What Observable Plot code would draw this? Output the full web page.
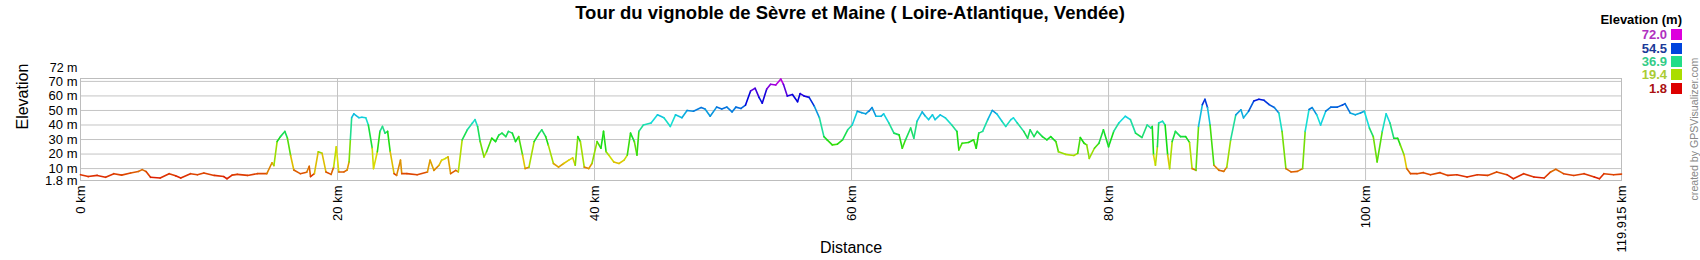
<!DOCTYPE html>
<html>
<head>
<meta charset="utf-8">
<script src="https://cdn.jsdelivr.net/npm/d3@7"></script>
<script src="https://cdn.jsdelivr.net/npm/@observablehq/plot@0.6"></script>
<style>
  html, body { margin: 0; padding: 0; background: #fff; }
  #wrap { position: relative; width: 1700px; height: 260px; font-family: "Liberation Sans", Arial, sans-serif; overflow: hidden; }
  #title { position: absolute; left: 0; width: 1700px; top: 2px; text-align: center; font-weight: bold; font-size: 18.5px; color: #000; }
  #legend { position: absolute; left: 1590px; top: 12px; width: 92px; }
  #legend .hdr { font-weight: bold; font-size: 13px; text-align: right; color: #000; margin-bottom: 1px; }
  #legend .row { display: flex; justify-content: flex-end; align-items: center; height: 13.4px; font-size: 13px; font-weight: bold; }
  #legend .sw { width: 11px; height: 11px; margin-left: 4px; }
  #credit { position: absolute; left: 1694px; top: 129px; transform: translate(-50%, -50%) rotate(-90deg); white-space: nowrap; font-size: 10.6px; color: #888; }
  #chart { position: absolute; left: 0; top: 0; }
</style>
</head>
<body>
<div id="wrap">
  <div id="chart"></div>
  <div id="title"></div>
  <div id="legend"></div>
  <div id="credit"></div>
</div>
<script>
const titleText = "Tour du vignoble de Sèvre et Maine ( Loire-Atlantique, Vendée)";
const creditText = "created by GPSVisualizer.com";
const legendTitle = "Elevation (m)";
const legendValues = [72.0, 54.5, 36.9, 19.4, 1.8];
const legendColors = ["#dd00dd", "#0044dd", "#22dd88", "#aadd00", "#dd0000"];
const legendTextColors = ["#b030c0", "#1a3a99", "#33cc88", "#aacc33", "#aa1111"];

const yTicks = [1.8, 10, 20, 30, 40, 50, 60, 70];
const yTopTick = [72];
const yGrid = [10, 20, 30, 40, 50, 60, 70];
const xTicks = [0, 20, 40, 60, 80, 100, 119.915];
const xGrid = [20, 40, 60, 80, 100];
const totalKm = 119.915;

const km = [0,0.6,1.3,1.95,2.6,3.2,3.9,4.5,4.8,5.1,5.45,6.2,6.9,7.4,7.8,8.56,9.1,9.6,10.4,11.15,11.4,11.8,12.2,13.0,13.75,14.5,14.9,15.05,15.3,15.56,15.9,16.1,16.35,16.6,17.1,17.6,17.8,17.9,18.2,18.5,18.8,19.1,19.5,19.7,19.9,20.1,20.5,20.75,20.9,21.0,21.1,21.27,21.66,21.9,22.2,22.4,22.7,22.8,23.1,23.3,23.5,23.7,23.9,24.1,24.4,24.6,24.9,25.0,25.4,26.2,27.0,27.2,27.5,27.9,28.1,28.4,28.6,28.8,29.2,29.4,29.7,30.1,30.5,30.7,30.9,31.1,31.4,31.6,32.0,32.3,32.55,32.8,33.1,33.3,33.6,33.85,34.1,34.4,34.6,34.9,35.3,35.7,35.9,36.2,36.4,36.8,37.2,37.6,38.0,38.3,38.5,38.7,38.9,39.2,39.55,39.8,40.2,40.5,40.7,40.9,41.1,41.5,41.9,42.3,42.55,42.8,43.1,43.3,43.45,43.8,44.4,44.9,45.4,45.9,46.3,46.8,47.2,47.7,48.3,48.6,49.0,49.5,49.9,50.3,50.7,51.0,51.4,51.75,52.15,52.5,52.8,53.05,53.4,53.7,54.1,54.5,54.7,55.0,55.4,55.8,56.0,56.3,56.7,57.1,57.5,57.85,58.1,58.5,58.9,59.3,59.7,60.05,60.45,60.8,61.1,61.35,61.6,61.9,62.3,62.5,62.9,63.3,63.7,63.95,64.2,64.6,64.85,65.1,65.5,65.75,66.0,66.3,66.5,66.9,67.3,67.8,68.2,68.35,68.6,69.1,69.5,69.7,69.9,70.2,70.6,70.95,71.3,71.7,72.0,72.4,72.6,72.9,73.4,73.7,73.9,74.2,74.45,74.85,75.2,75.5,75.9,76.1,76.65,77.3,77.6,77.8,78.1,78.3,78.5,78.9,79.25,79.6,80.0,80.4,80.8,81.3,81.7,82.1,82.6,83.0,83.3,83.4,83.5,83.65,83.8,83.9,84.2,84.4,84.6,84.75,84.95,85.2,85.6,86.0,86.3,86.5,86.8,87.0,87.3,87.5,87.7,87.9,88.2,88.6,88.97,89.2,89.5,89.9,90.3,90.5,90.9,91.3,91.7,92.1,92.5,92.9,93.25,93.5,93.8,94.2,94.7,95.1,95.3,95.6,95.85,96.2,96.5,96.9,97.3,97.8,98.2,98.4,98.8,99.2,99.6,99.9,100.3,100.6,100.9,101.3,101.6,101.9,102.2,102.5,102.7,103.0,103.2,103.5,104.0,104.5,105.05,105.8,106.4,107.1,107.9,108.7,109.5,110.2,111.0,111.5,112.3,113.1,113.9,114.4,114.8,115.4,116.2,117.0,117.8,118.2,118.55,119.3,119.915];
const elev = [5.8,4.5,5.3,4.0,6.5,5.5,7.0,8.0,9.3,8.0,4.0,3.5,6.5,5.0,3.5,6.5,5.8,7.0,5.3,4.5,3.0,5.5,6.0,5.3,6.5,6.5,14.0,12.0,28.6,32,35.6,31,19,9,6.5,7.5,11.6,4.5,6.5,21.6,20.5,7.7,6.0,11,25,7.7,7.7,9.0,14.6,30,45,47.7,45,45.3,45,40,24,10,21.6,35.6,39,34.4,35.6,21.6,6.5,5.3,15.8,6.5,6.5,5.8,7.7,15.8,8.8,12.3,15.8,17,18.1,6.5,8.8,7.7,29.8,36.7,41.4,43.7,39,28.6,18,21.6,30.9,28.6,33,34.4,32,35.6,34.4,28.6,32,19.3,10,11,28.6,34.4,36.7,32,26.3,13.5,11,13.5,15.8,17.4,12.3,32,28.6,11,10,13.5,28.6,24,35.6,21.6,19.3,14.6,13.5,15.8,19.3,34.4,28.6,19.3,35.6,40,41.4,47,45,39,47,45,50,49.5,52,51,46,52.3,51,52.3,49,52.3,51.4,53.7,63.5,65.3,59,55,64.7,68,67.5,71.6,68,60,61,56,61.6,60,59,53,45,32,29.8,26.3,26.8,29.8,36.7,40,49.5,48.5,47.7,49.5,52,46,46,47.7,41.4,34.4,33.2,24,29.8,37.9,30.9,42.6,49,46,43.7,47,43.7,47,44.9,40,35.6,22.8,27.4,28,29.8,24,34.4,35.6,43.7,50,47.7,42.6,39,43.7,44.9,41.4,35.6,30.9,36.7,32,35.6,32,29.8,32,28.6,21.6,19.8,19,20.5,31.4,27.4,26.3,17,24,27.4,36.7,25,35.6,41.4,46,43.7,34.4,31.4,40,37.9,39,19.3,12.3,25,41.4,42.6,40,19.3,10,28.6,35.6,32,32,28,10,8.8,39,54,57.7,52,40,12.3,8.8,8.1,11,29.8,47,50.5,44.9,49.5,56.5,57.7,57,54,52,48.3,35.6,10,7.7,8.1,10,35.6,50.7,52,47,40,49.5,52.3,52.3,53.7,54.7,48.3,47,48.3,49.5,37.9,32,14.6,35.6,47.7,41.4,30.9,30.9,26.3,19.3,10,6.5,6.5,7.2,5.8,7.2,5.3,5.8,4.2,5.8,5.3,7.7,5.8,3.0,6.5,4.2,3.5,7.7,9.5,6.5,5.3,6.5,4.2,3.0,6.5,5.8,6.2];

// consecutive segments so each piece can take the colour of its elevation
const segs = d3.pairs(d3.zip(km, elev)).map(([a, b]) => ({x1: a[0], y1: a[1], x2: b[0], y2: b[1], e: (a[1] + b[1]) / 2}));

const colorDomain = legendValues.slice().reverse();
const colorRange = legendColors.slice().reverse();

const chart = Plot.plot({
  width: 1700,
  height: 260,
  marginLeft: 80,
  marginRight: 79,
  marginTop: 78,
  marginBottom: 80,
  style: {fontFamily: "'Liberation Sans', Arial, sans-serif", background: "transparent", color: "#000"},
  x: {domain: [0, totalKm], label: null},
  y: {domain: [1.8, 72], label: null},
  color: {type: "linear", domain: colorDomain, range: colorRange, interpolate: "hsl"},
  marks: [
    Plot.gridY(yGrid, {stroke: "#c4c4c4", strokeOpacity: 1}),
    Plot.gridX(xGrid, {stroke: "#c4c4c4", strokeOpacity: 1}),
    Plot.frame({stroke: "#bdbdbd"}),
    Plot.link(segs, {x1: "x1", y1: "y1", x2: "x2", y2: "y2", stroke: "e", strokeWidth: 1.6, strokeLinecap: "round"}),
    Plot.axisY(yTicks, {tickSize: 0, tickPadding: 3, fontSize: 13, tickFormat: d => `${d} m`, label: null}),
    Plot.axisY(yTopTick, {tickSize: 0, tickPadding: 3, fontSize: 12.5, dy: -10.5, tickFormat: d => `${d} m`, label: null}),
    Plot.axisX(xTicks, {tickSize: 0, tickPadding: 5, fontSize: 13, tickRotate: -90, tickFormat: d => `${d} km`, label: null}),
    Plot.text(["Elevation"], {frameAnchor: "left", dx: -58, rotate: -90, fontSize: 16, fill: "#000"}),
    Plot.text(["Distance"], {frameAnchor: "bottom", dy: 72, fontSize: 16, fill: "#000"})
  ]
});
document.getElementById("chart").appendChild(chart);

document.getElementById("title").textContent = titleText;
document.getElementById("credit").textContent = creditText;
const lg = document.getElementById("legend");
const hdr = document.createElement("div");
hdr.className = "hdr";
hdr.textContent = legendTitle;
lg.appendChild(hdr);
legendValues.forEach((v, i) => {
  const row = document.createElement("div");
  row.className = "row";
  const t = document.createElement("span");
  t.textContent = v.toFixed(1);
  t.style.color = legendTextColors[i];
  const sw = document.createElement("span");
  sw.className = "sw";
  sw.style.background = legendColors[i];
  row.appendChild(t);
  row.appendChild(sw);
  lg.appendChild(row);
});
</script>
</body>
</html>
